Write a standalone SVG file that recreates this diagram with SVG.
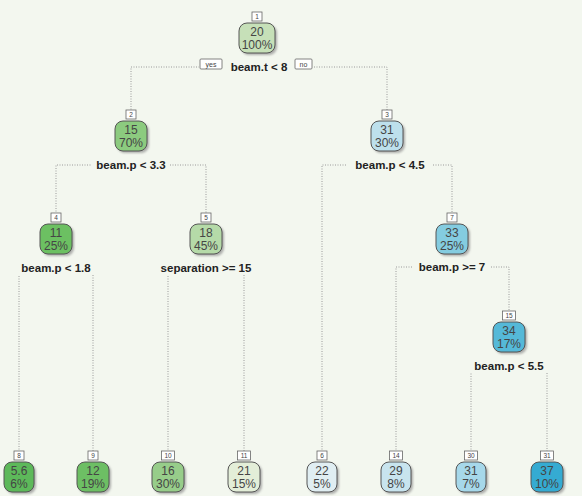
<svg xmlns="http://www.w3.org/2000/svg" width="582" height="496" viewBox="0 0 582 496">
  <defs>
    <filter id="soft" x="-20%" y="-20%" width="140%" height="140%">
      <feGaussianBlur stdDeviation="1"/>
    </filter>
  </defs>
  <style>
    .bg { fill: #f3f7ef; }
    .edge { fill: none; stroke: #9a9a9a; stroke-width: 1; stroke-dasharray: 1 1.5; }
    .shadow { fill: #8f8f8f; opacity: 0.7; filter: url(#soft); }
    .box { stroke: #555; stroke-width: 1; }
    .val { font-family: "Liberation Sans", Arial, sans-serif; font-size: 12px; fill: #454545; text-anchor: middle; }
    .idbox { fill: #ffffff; stroke: #666; stroke-width: 0.8; }
    .idtxt { font-family: "Liberation Sans", Arial, sans-serif; font-size: 6.5px; fill: #444; text-anchor: middle; }
    .split { font-family: "Liberation Sans", Arial, sans-serif; font-size: 11.5px; font-weight: bold; fill: #222; text-anchor: middle; }
    .yn { font-family: "Liberation Sans", Arial, sans-serif; font-size: 7px; fill: #444; text-anchor: middle; }
  </style>

  <rect class="bg" x="0" y="0" width="582" height="496"/>

  <!-- connectors: horizontal runs at split labels, then drops to children -->
  <g id="connectors">
    <!-- root split -->
    <path class="edge" d="M131 112 V67 H199 M314 67 H387 V112"/>
    <!-- node 2 split -->
    <path class="edge" d="M56 214 V165 H92 M170 165 H206 V214"/>
    <!-- node 3 split -->
    <path class="edge" d="M322 452 V165 H347 M433 165 H452 V214"/>
    <!-- node 4 split -->
    <path class="edge" d="M19 452 V275 M93 275 V452"/>
    <!-- node 5 split -->
    <path class="edge" d="M168 452 V275 M244 275 V452"/>
    <!-- node 7 split -->
    <path class="edge" d="M396 452 V267 H413 M491 267 H509 V312"/>
    <!-- node 15 split -->
    <path class="edge" d="M471 452 V373 M547 373 V452"/>
  </g>

  <!-- split labels -->
  <g id="labels">
    <g id="yes-tag">
      <rect class="idbox" x="200" y="59" width="22" height="10" rx="1"/>
      <text class="yn" x="211" y="66.5">yes</text>
    </g>
    <text class="split" x="259" y="71">beam.t &lt; 8</text>
    <g id="no-tag">
      <rect class="idbox" x="295" y="59" width="17" height="10" rx="1"/>
      <text class="yn" x="303.5" y="66.5">no</text>
    </g>
    <text class="split" x="131" y="169">beam.p &lt; 3.3</text>
    <text class="split" x="390" y="169">beam.p &lt; 4.5</text>
    <text class="split" x="56" y="272">beam.p &lt; 1.8</text>
    <text class="split" x="206" y="272">separation &gt;= 15</text>
    <text class="split" x="452" y="271">beam.p &gt;= 7</text>
    <text class="split" x="509" y="370">beam.p &lt; 5.5</text>
  </g>

  <!-- node 1 -->
  <g id="node1" transform="translate(257,23)">
    <rect class="idbox" x="-5" y="-11" width="10" height="9"/>
    <text class="idtxt" x="0" y="-4.2">1</text>
    <rect class="shadow" x="-16" y="2" width="36" height="30" rx="8"/>
    <rect class="box" x="-18" y="0" width="36" height="30" rx="8" fill="#c6e0b8"/>
    <text class="val" x="0" y="13">20</text>
    <text class="val" x="0" y="26">100%</text>
  </g>

  <!-- node 2 -->
  <g id="node2" transform="translate(131,121)">
    <rect class="idbox" x="-5" y="-11" width="10" height="9"/>
    <text class="idtxt" x="0" y="-4.2">2</text>
    <rect class="shadow" x="-14" y="2" width="32" height="30" rx="8"/>
    <rect class="box" x="-16" y="0" width="32" height="30" rx="8" fill="#8ccb7f"/>
    <text class="val" x="0" y="13">15</text>
    <text class="val" x="0" y="26">70%</text>
  </g>

  <!-- node 3 -->
  <g id="node3" transform="translate(387,121)">
    <rect class="idbox" x="-5" y="-11" width="10" height="9"/>
    <text class="idtxt" x="0" y="-4.2">3</text>
    <rect class="shadow" x="-14" y="2" width="32" height="30" rx="8"/>
    <rect class="box" x="-16" y="0" width="32" height="30" rx="8" fill="#bde0ec"/>
    <text class="val" x="0" y="13">31</text>
    <text class="val" x="0" y="26">30%</text>
  </g>

  <!-- node 4 -->
  <g id="node4" transform="translate(56,224)">
    <rect class="idbox" x="-5" y="-11" width="10" height="9"/>
    <text class="idtxt" x="0" y="-4.2">4</text>
    <rect class="shadow" x="-14" y="2" width="32" height="30" rx="8"/>
    <rect class="box" x="-16" y="0" width="32" height="30" rx="8" fill="#6cc062"/>
    <text class="val" x="0" y="13">11</text>
    <text class="val" x="0" y="26">25%</text>
  </g>

  <!-- node 5 -->
  <g id="node5" transform="translate(206,224)">
    <rect class="idbox" x="-5" y="-11" width="10" height="9"/>
    <text class="idtxt" x="0" y="-4.2">5</text>
    <rect class="shadow" x="-14" y="2" width="32" height="30" rx="8"/>
    <rect class="box" x="-16" y="0" width="32" height="30" rx="8" fill="#b5daa8"/>
    <text class="val" x="0" y="13">18</text>
    <text class="val" x="0" y="26">45%</text>
  </g>

  <!-- node 7 -->
  <g id="node7" transform="translate(452,224)">
    <rect class="idbox" x="-5" y="-11" width="10" height="9"/>
    <text class="idtxt" x="0" y="-4.2">7</text>
    <rect class="shadow" x="-14" y="2" width="32" height="30" rx="8"/>
    <rect class="box" x="-16" y="0" width="32" height="30" rx="8" fill="#84cce0"/>
    <text class="val" x="0" y="13">33</text>
    <text class="val" x="0" y="26">25%</text>
  </g>

  <!-- node 15 -->
  <g id="node15" transform="translate(509,322)">
    <rect class="idbox" x="-6.5" y="-11" width="13" height="9"/>
    <text class="idtxt" x="0" y="-4.2">15</text>
    <rect class="shadow" x="-14" y="2" width="32" height="30" rx="8"/>
    <rect class="box" x="-16" y="0" width="32" height="30" rx="8" fill="#55b9d8"/>
    <text class="val" x="0" y="13">34</text>
    <text class="val" x="0" y="26">17%</text>
  </g>

  <!-- leaf 8 -->
  <g id="node8" transform="translate(19,462)">
    <rect class="idbox" x="-5" y="-11" width="10" height="9"/>
    <text class="idtxt" x="0" y="-4.2">8</text>
    <rect class="shadow" x="-13" y="2" width="30" height="30" rx="8"/>
    <rect class="box" x="-15" y="0" width="30" height="30" rx="8" fill="#5db95a"/>
    <text class="val" x="0" y="13">5.6</text>
    <text class="val" x="0" y="26">6%</text>
  </g>

  <!-- leaf 9 -->
  <g id="node9" transform="translate(93,462)">
    <rect class="idbox" x="-5" y="-11" width="10" height="9"/>
    <text class="idtxt" x="0" y="-4.2">9</text>
    <rect class="shadow" x="-14" y="2" width="32" height="30" rx="8"/>
    <rect class="box" x="-16" y="0" width="32" height="30" rx="8" fill="#6dbf64"/>
    <text class="val" x="0" y="13">12</text>
    <text class="val" x="0" y="26">19%</text>
  </g>

  <!-- leaf 10 -->
  <g id="node10" transform="translate(168,462)">
    <rect class="idbox" x="-6.5" y="-11" width="13" height="9"/>
    <text class="idtxt" x="0" y="-4.2">10</text>
    <rect class="shadow" x="-14" y="2" width="32" height="30" rx="8"/>
    <rect class="box" x="-16" y="0" width="32" height="30" rx="8" fill="#97cd8a"/>
    <text class="val" x="0" y="13">16</text>
    <text class="val" x="0" y="26">30%</text>
  </g>

  <!-- leaf 11 -->
  <g id="node11" transform="translate(244,462)">
    <rect class="idbox" x="-6.5" y="-11" width="13" height="9"/>
    <text class="idtxt" x="0" y="-4.2">11</text>
    <rect class="shadow" x="-14" y="2" width="32" height="30" rx="8"/>
    <rect class="box" x="-16" y="0" width="32" height="30" rx="8" fill="#e3eed8"/>
    <text class="val" x="0" y="13">21</text>
    <text class="val" x="0" y="26">15%</text>
  </g>

  <!-- leaf 6 -->
  <g id="node6" transform="translate(322,462)">
    <rect class="idbox" x="-5" y="-11" width="10" height="9"/>
    <text class="idtxt" x="0" y="-4.2">6</text>
    <rect class="shadow" x="-13" y="2" width="30" height="30" rx="8"/>
    <rect class="box" x="-15" y="0" width="30" height="30" rx="8" fill="#e0eef2"/>
    <text class="val" x="0" y="13">22</text>
    <text class="val" x="0" y="26">5%</text>
  </g>

  <!-- leaf 14 -->
  <g id="node14" transform="translate(396,462)">
    <rect class="idbox" x="-6.5" y="-11" width="13" height="9"/>
    <text class="idtxt" x="0" y="-4.2">14</text>
    <rect class="shadow" x="-13" y="2" width="30" height="30" rx="8"/>
    <rect class="box" x="-15" y="0" width="30" height="30" rx="8" fill="#c8e4ee"/>
    <text class="val" x="0" y="13">29</text>
    <text class="val" x="0" y="26">8%</text>
  </g>

  <!-- leaf 30 -->
  <g id="node30" transform="translate(471,462)">
    <rect class="idbox" x="-6.5" y="-11" width="13" height="9"/>
    <text class="idtxt" x="0" y="-4.2">30</text>
    <rect class="shadow" x="-13" y="2" width="30" height="30" rx="8"/>
    <rect class="box" x="-15" y="0" width="30" height="30" rx="8" fill="#a6d8ea"/>
    <text class="val" x="0" y="13">31</text>
    <text class="val" x="0" y="26">7%</text>
  </g>

  <!-- leaf 31 -->
  <g id="node31" transform="translate(547,462)">
    <rect class="idbox" x="-6.5" y="-11" width="13" height="9"/>
    <text class="idtxt" x="0" y="-4.2">31</text>
    <rect class="shadow" x="-14" y="2" width="32" height="30" rx="8"/>
    <rect class="box" x="-16" y="0" width="32" height="30" rx="8" fill="#35abd2"/>
    <text class="val" x="0" y="13">37</text>
    <text class="val" x="0" y="26">10%</text>
  </g>
</svg>
